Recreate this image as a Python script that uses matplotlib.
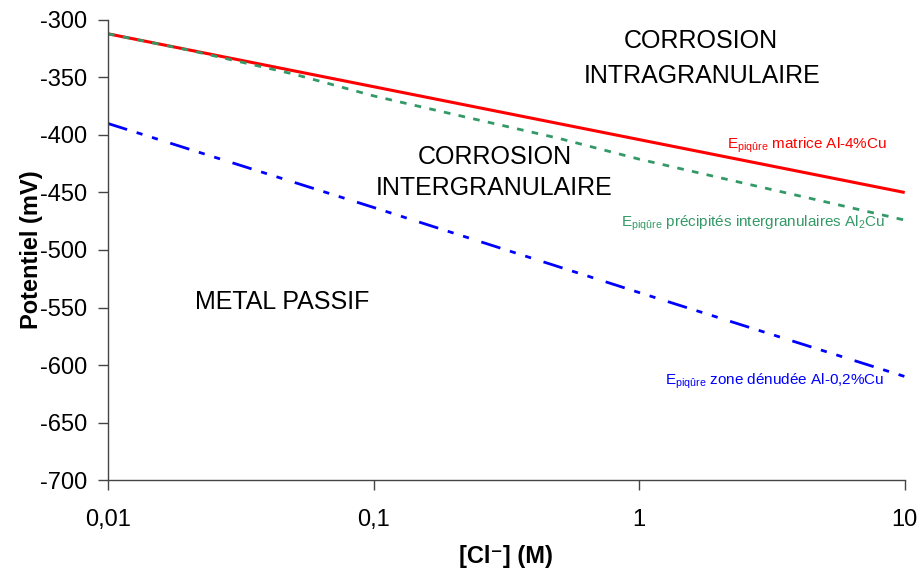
import numpy as np
import matplotlib
matplotlib.use("Agg")
from matplotlib import pyplot as plt

plt.rcParams['font.family'] = ['Liberation Sans', 'DejaVu Sans']
plt.rcParams['mathtext.fontset'] = 'custom'
plt.rcParams['mathtext.rm'] = 'Liberation Sans'
plt.rcParams['mathtext.it'] = 'Liberation Sans'
plt.rcParams['axes.unicode_minus'] = False

#data
cl_matrice = [0.01, 0.1, 1, 10]
e_matrice = [-312, -358, -404, -450]

cl_precip = [0.01, 0.02, 0.05, 0.1, 0.2, 0.5, 1, 2, 5, 10]
e_precip = [-312, -326, -347, -366, -382, -403, -421, -437, -458, -474]

cl_zone = [0.01, 0.1, 1, 10]
e_zone = [-390, -463, -537, -610]

xticks = [0.01, 0.1, 1, 10]
xtick_labels = ["0,01", "0,1", "1", "10"]
yticks = list(range(-700, -299, 50))

red, green, blue = "#FF0000", "#339966", "#0000FF"

fig = plt.figure(figsize=(9.2, 5.73), dpi=100)
ax = fig.add_axes([0.1174, 0.1623, 0.866, 0.8028])

ax.plot(cl_matrice, e_matrice, color=red, lw=2.2, solid_capstyle='butt')
ax.plot(cl_precip, e_precip, color=green, lw=2.0, dashes=(2.4, 3.0))
ax.plot(cl_zone, e_zone, color=blue, lw=2.0, dashes=(7.2, 3.6, 2.2, 3.6, 2.2, 4.7))

ax.set_xscale('log')
ax.set_xlim(0.01, 10)
ax.set_ylim(-700, -300)
ax.xaxis.set_minor_locator(matplotlib.ticker.NullLocator())
ax.set_xticks(xticks)
ax.set_xticklabels(xtick_labels)
ax.set_yticks(yticks)

for s in ['top', 'right']:
    ax.spines[s].set_visible(False)
for s in ['left', 'bottom']:
    ax.spines[s].set_color('#444444')
    ax.spines[s].set_linewidth(1.0)
ax.tick_params(axis='both', direction='out', length=7, width=1.0, color='#444444',
               labelsize=17, pad=8)
ax.tick_params(axis='x', pad=14)

ax.set_xlabel("[Cl⁻] (M)", fontsize=17, fontweight='bold', labelpad=10)
ax.set_ylabel("Potentiel (mV)", fontsize=17, fontweight='bold', labelpad=-2)

#region names
ax.text(1.71, -318, "CORROSION", fontsize=18, ha='center', va='center')
ax.text(1.73, -348.5, "INTRAGRANULAIRE", fontsize=18, ha='center', va='center')
ax.text(0.285, -419, "CORROSION", fontsize=18, ha='center', va='center')
ax.text(0.285, -446.5, "INTERGRANULAIRE", fontsize=18, ha='center', va='center')
ax.text(0.0451, -545, "METAL PASSIF", fontsize=18, ha='center', va='center')

#curve labels
ax.text(2.14, -409, r"E$_{\mathrm{piqûre}}$ matrice Al-4%Cu", color=red, fontsize=11,
        ha='left', va='center')
ax.text(0.855, -476.5, r"E$_{\mathrm{piqûre}}$ précipités intergranulaires Al$_{\mathrm{2}}$Cu",
        color=green, fontsize=11, ha='left', va='center')
ax.text(1.25, -614, r"E$_{\mathrm{piqûre}}$ zone dénudée Al-0,2%Cu", color=blue, fontsize=11,
        ha='left', va='center')

fig.savefig("out.png", dpi=100)
